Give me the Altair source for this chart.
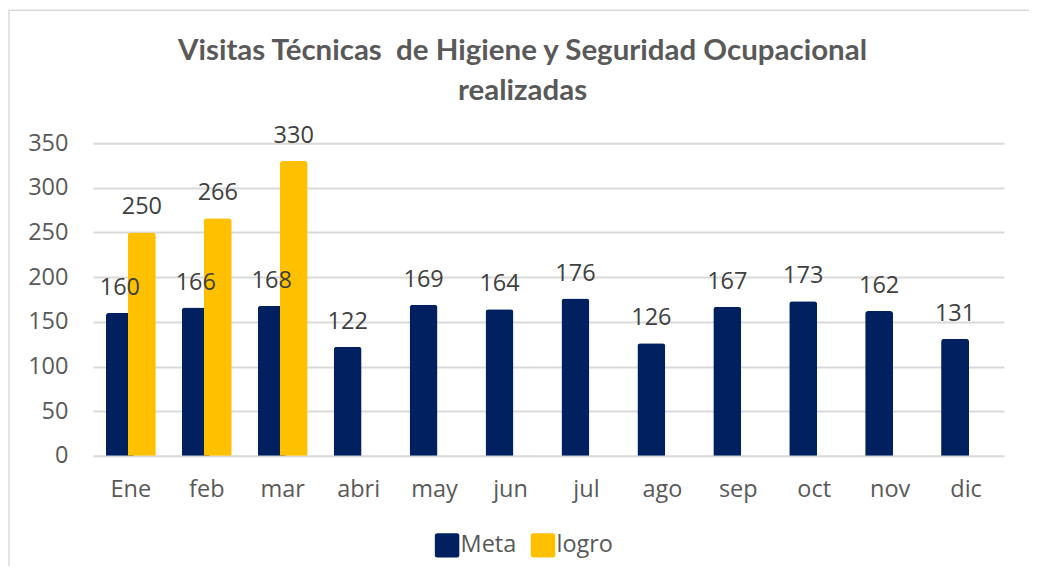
import altair as alt
import pandas as pd

months = ["Ene", "feb", "mar", "abri", "may", "jun", "jul", "ago", "sep", "oct", "nov", "dic"]
meta = [160, 166, 168, 122, 169, 164, 176, 126, 167, 173, 162, 131]
logro = [250, 266, 330, None, None, None, None, None, None, None, None, None]
series = ["Meta", "logro"]
colors = ["#002060", "#FFC000"]
title_lines = ["Visitas Técnicas\u00a0 de Higiene y Seguridad Ocupacional", "realizadas"]

rows = []
for m, v in zip(months, meta):
    rows.append({"mes": m, "serie": "Meta", "valor": v})
for m, v in zip(months, logro):
    if v is not None:
        rows.append({"mes": m, "serie": "logro", "valor": v})
df = pd.DataFrame(rows)

W, H = 912, 313
LABEL_FONT = "Open Sans"
FS = 23.5
TXT = "#595959"

rounded = "M -0.8,-1 L 0.8,-1 Q 1,-1 1,-0.8 L 1,0.8 Q 1,1 0.8,1 L -0.8,1 Q -1,1 -1,0.8 L -1,-0.8 Q -1,-1 -0.8,-1 Z"

x_enc = alt.X("mes:N", sort=months, title=None,
              scale=alt.Scale(domain=months, paddingInner=0, paddingOuter=0),
              axis=alt.Axis(labelAngle=0, labelFont=LABEL_FONT, labelFontSize=FS,
                            labelColor=TXT, labelPadding=22, ticks=False, domain=False))
y_enc = alt.Y("valor:Q", title=None,
              scale=alt.Scale(domain=[0, 350], nice=False),
              axis=alt.Axis(values=list(range(0, 351, 50)), labelFont=LABEL_FONT,
                            labelFontSize=FS, labelColor=TXT, labelPadding=25,
                            ticks=False, domain=False, gridColor="#D9D9D9",
                            gridWidth=2))
color_enc = alt.Color("serie:N", scale=alt.Scale(domain=series, range=colors),
                      legend=alt.Legend(title=None, orient="none", direction="horizontal",
                                        legendX=342, legendY=390,
                                        symbolType=rounded, symbolSize=600,
                                        symbolStrokeWidth=0, symbolOpacity=1,
                                        labelFont=LABEL_FONT, labelFontSize=FS,
                                        labelColor=TXT, labelOffset=1,
                                        columnPadding=14))

base = alt.Chart(df)

border = alt.Chart(pd.DataFrame({"a": [0]})).mark_rect(
    fillOpacity=0, stroke="#D9D9D9", strokeWidth=1.5
).encode(x=alt.value(-84), x2=alt.value(938), y=alt.value(-133), y2=alt.value(450))

title_layers = []
for line, ypos in zip(title_lines, [-92, -52]):
    title_layers.append(
        alt.Chart(pd.DataFrame({"t": [line]})).mark_text(
            font="Lato", fontSize=29.5, fontWeight="bold", color=TXT,
            align="center", baseline="middle"
        ).encode(text="t:N", x=alt.value(430), y=alt.value(ypos))
    )

bars_meta = base.transform_filter(alt.datum.serie == "Meta").mark_bar(
    width=28, xOffset=-11, cornerRadiusTopLeft=3, cornerRadiusTopRight=3
).encode(x=x_enc, y=y_enc, color=color_enc)
bars_logro = base.transform_filter(alt.datum.serie == "logro").mark_bar(
    width=28, xOffset=11, cornerRadiusTopLeft=3, cornerRadiusTopRight=3
).encode(x=x_enc, y=y_enc, color=color_enc)

txt_meta = base.transform_filter(alt.datum.serie == "Meta").mark_text(
    xOffset=-11, dy=-18, baseline="alphabetic", font=LABEL_FONT, fontSize=FS, color="#404040"
).encode(x=x_enc, y=y_enc, text="valor:Q")
txt_logro = base.transform_filter(alt.datum.serie == "logro").mark_text(
    xOffset=11, dy=-18, baseline="alphabetic", font=LABEL_FONT, fontSize=FS, color="#404040"
).encode(x=x_enc, y=y_enc, text="valor:Q")

chart = alt.layer(border, bars_meta, bars_logro, txt_meta, txt_logro, *title_layers).properties(
    width=W, height=H,
    autosize=alt.AutoSizeParams(type="none"),
    padding={"left": 85, "top": 135, "right": 25, "bottom": 110},
    background="white",
).configure_view(strokeWidth=0)

chart.save("out.html", embed_options={"renderer": "svg", "actions": False})
